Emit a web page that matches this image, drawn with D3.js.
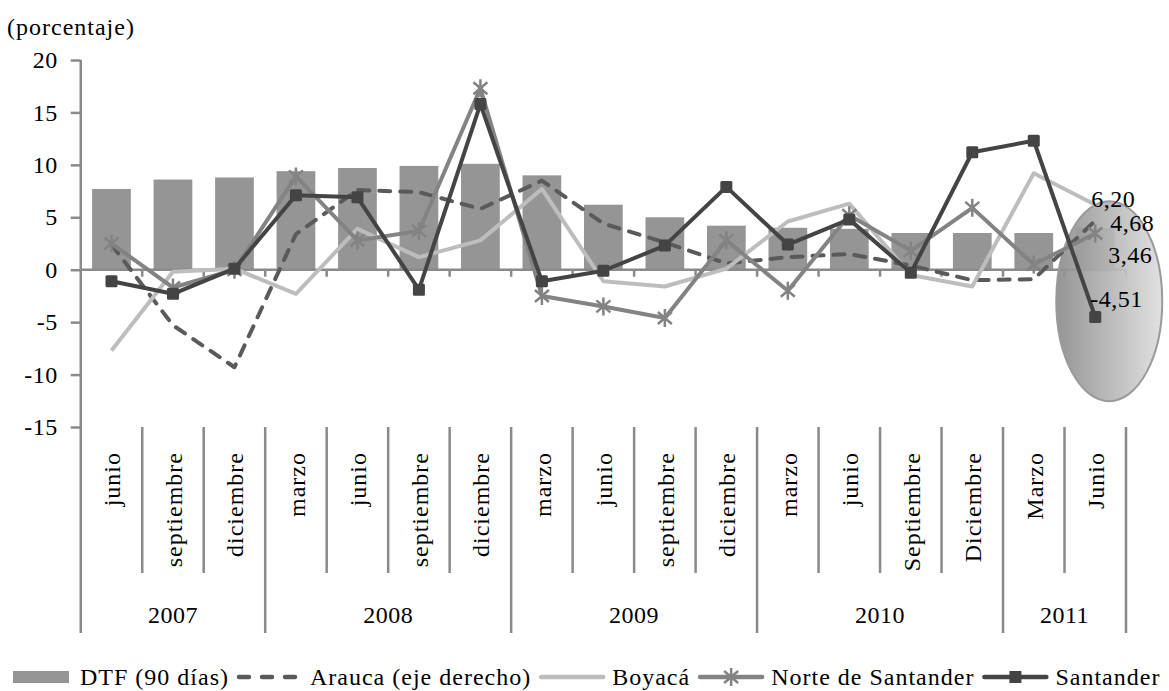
<!DOCTYPE html>
<html>
<head>
<meta charset="utf-8">
<script src="https://cdn.jsdelivr.net/npm/d3@7/dist/d3.min.js"></script>
<style>
  body { margin: 0; background: #fff; }
  svg text { font-family: "Liberation Serif", "Times New Roman", serif; fill: #000; }
</style>
</head>
<body>
<script>
// categories (quarters) and their years
var months = ["junio", "septiembre", "diciembre",
              "marzo", "junio", "septiembre", "diciembre",
              "marzo", "junio", "septiembre", "diciembre",
              "marzo", "junio", "Septiembre", "Diciembre",
              "Marzo", "Junio"];
var years = ["2007", "2008", "2009", "2010", "2011"];
var yearCounts = [3, 4, 4, 4, 2];

// series values (percent)
var dtf       = [7.7, 8.6, 8.8, 9.4, 9.7, 9.9, 10.1, 9.0, 6.2, 5.0, 4.2, 4.0, 3.9, 3.5, 3.5, 3.5, 4.0];
var arauca    = [2.4, -5.3, -9.3, 3.4, 7.6, 7.4, 5.8, 8.5, 4.4, 2.6, 0.6, 1.2, 1.5, 0.4, -1.0, -0.9, 4.68];
var boyaca    = [-7.7, -0.2, 0.1, -2.3, 3.9, 1.2, 2.8, 7.7, -1.1, -1.6, 0.1, 4.6, 6.3, -0.5, -1.6, 9.2, 6.20];
var norte     = [2.5, -1.7, 0.0, 8.9, 2.8, 3.7, 17.3, -2.5, -3.5, -4.6, 2.8, -2.0, 5.2, 1.8, 5.9, 0.5, 3.46];
var santander = [-1.1, -2.3, 0.1, 7.1, 6.9, -1.9, 15.8, -1.1, -0.1, 2.3, 7.9, 2.4, 4.8, -0.3, 11.2, 12.3, -4.51];

var yTicks = [-15, -10, -5, 0, 5, 10, 15, 20];
var lastLabels = ["4,68", "6,20", "3,46", "-4,51"];

var width = 1169, height = 691;
var axisColor = "#8a8a8a";
var fontSize = "24px";

var svg = d3.select("body").append("svg")
    .attr("width", width)
    .attr("height", height);

// scales
var x = d3.scaleBand()
    .domain(d3.range(months.length))
    .range([80.75, 1126])
    .paddingInner(0.37)
    .paddingOuter(0.185);
var step = x.step();
function cx(i) { return x(i) + x.bandwidth() / 2; }
function edge(i) { return x.range()[0] + step * i; }

var y = d3.scaleLinear().domain([-15, 20]).range([427, 60]);

// gradient for the highlight ellipse
var defs = svg.append("defs");
var grad = defs.append("linearGradient").attr("id", "ellGrad")
    .attr("x1", "0%").attr("x2", "100%").attr("y1", "0%").attr("y2", "0%");
grad.append("stop").attr("offset", "0%").attr("stop-color", "#8c8c8c");
grad.append("stop").attr("offset", "100%").attr("stop-color", "#dedede");

// title of y axis
svg.append("text")
   .attr("x", 7)
   .attr("y", 35)
   .style("font-size", fontSize)
   .style("letter-spacing", "1px")
   .text("(porcentaje)");

// DTF bars
svg.selectAll("rect.bar")
   .data(dtf)
   .enter()
   .append("rect")
   .attr("class", "bar")
   .attr("x", function(d, i) { return x(i); })
   .attr("width", x.bandwidth())
   .attr("y", function(d) { return y(Math.max(d, 0)); })
   .attr("height", function(d) { return Math.abs(y(d) - y(0)); })
   .attr("fill", "#959595");

// y axis
var yAxis = d3.axisLeft(y)
    .tickValues(yTicks)
    .tickSize(10)
    .tickPadding(13)
    .tickFormat(function(d) { return String(d); });
var gy = svg.append("g")
   .attr("transform", "translate(" + x.range()[0] + ",0)")
   .call(yAxis);
gy.select(".domain").remove();
gy.selectAll("line").attr("stroke", axisColor).attr("stroke-width", 2.5);
gy.selectAll("text")
  .style("font-size", fontSize)
  .style("font-family", "Liberation Serif")
  .style("letter-spacing", "0.5px");

// left axis line, down to the bottom of the year rows
svg.append("line")
   .attr("x1", x.range()[0]).attr("x2", x.range()[0])
   .attr("y1", y(20)).attr("y2", 633)
   .attr("stroke", axisColor).attr("stroke-width", 2.5);

// zero line with small ticks
svg.append("line")
   .attr("x1", x.range()[0]).attr("x2", x.range()[1])
   .attr("y1", y(0)).attr("y2", y(0))
   .attr("stroke", axisColor).attr("stroke-width", 2.5);
svg.selectAll("line.zt")
   .data(d3.range(1, months.length + 1))
   .enter()
   .append("line")
   .attr("class", "zt")
   .attr("x1", function(d) { return edge(d); })
   .attr("x2", function(d) { return edge(d); })
   .attr("y1", y(0)).attr("y2", y(0) + 7)
   .attr("stroke", axisColor).attr("stroke-width", 2.5);

// category separators in the label area
var yearStarts = [0];
yearCounts.forEach(function(c, k) { yearStarts.push(yearStarts[k] + c); });
svg.selectAll("line.sep")
   .data(d3.range(1, months.length + 1))
   .enter()
   .append("line")
   .attr("class", "sep")
   .attr("x1", function(d) { return edge(d); })
   .attr("x2", function(d) { return edge(d); })
   .attr("y1", y(-15))
   .attr("y2", function(d) { return yearStarts.indexOf(d) >= 0 ? 633 : 573; })
   .attr("stroke", axisColor).attr("stroke-width", 2.5);

// month labels, rotated
svg.selectAll("text.month")
   .data(months)
   .enter()
   .append("text")
   .attr("class", "month")
   .attr("transform", function(d, i) {
     return "translate(" + (cx(i) + 1) + ",452)rotate(-90)";
   })
   .attr("dy", "0.33em")
   .attr("text-anchor", "end")
   .style("font-size", fontSize)
   .style("letter-spacing", "1px")
   .text(function(d) { return d; });

// year labels
svg.selectAll("text.year")
   .data(years)
   .enter()
   .append("text")
   .attr("class", "year")
   .attr("x", function(d, k) { return (edge(yearStarts[k]) + edge(yearStarts[k + 1])) / 2; })
   .attr("y", 623)
   .attr("text-anchor", "middle")
   .style("font-size", fontSize)
   .style("letter-spacing", "0.5px")
   .text(function(d) { return d; });

// highlight ellipse around the last quarter
var last = months.length - 1;
svg.append("ellipse")
   .attr("cx", cx(last) + 14)
   .attr("cy", y(-3))
   .attr("rx", 53)
   .attr("ry", 100)
   .attr("fill", "url(#ellGrad)")
   .attr("fill-opacity", 0.92)
   .attr("stroke", "#9a9a9a")
   .attr("stroke-width", 2);

// line series
var line = d3.line()
    .x(function(d, i) { return cx(i); })
    .y(function(d) { return y(d); });

var series = [
  { name: "Arauca (eje derecho)", values: arauca, color: "#5a5a5a", dash: "11,10", marker: null },
  { name: "Boyacá", values: boyaca, color: "#bdbdbd", dash: null, marker: null },
  { name: "Norte de Santander", values: norte, color: "#838383", dash: null, marker: "star" },
  { name: "Santander", values: santander, color: "#444444", dash: null, marker: "square" }
];

var starPath = "M-7,-6L7,6M-7,6L7,-6M0,-9L0,9";

series.forEach(function(s) {
  svg.append("path")
     .datum(s.values)
     .attr("d", line)
     .attr("fill", "none")
     .attr("stroke", s.color)
     .attr("stroke-width", 4)
     .attr("stroke-linejoin", "round")
     .attr("stroke-linecap", s.dash ? "round" : "butt")
     .attr("stroke-dasharray", s.dash);

  if (s.marker === "square") {
    svg.selectAll(null)
       .data(s.values)
       .enter()
       .append("rect")
       .attr("x", function(d, i) { return cx(i) - 6; })
       .attr("y", function(d) { return y(d) - 6; })
       .attr("width", 12).attr("height", 12)
       .attr("rx", 1.5)
       .attr("fill", s.color);
  }
  if (s.marker === "star") {
    svg.selectAll(null)
       .data(s.values)
       .enter()
       .append("path")
       .attr("transform", function(d, i) { return "translate(" + cx(i) + "," + y(d) + ")"; })
       .attr("d", starPath)
       .attr("stroke", s.color)
       .attr("stroke-width", 2.5)
       .attr("fill", "none");
  }
});

// labels of the last values
var labelOffsets = [[15, 2], [-4, -6], [13, 21], [-5, -18]];
series.forEach(function(s, k) {
  svg.append("text")
     .attr("x", cx(last) + labelOffsets[k][0])
     .attr("y", y(s.values[last]) + labelOffsets[k][1])
     .attr("dy", "0.35em")
     .style("font-size", fontSize)
     .style("letter-spacing", "0.5px")
     .text(lastLabels[k]);
});

// legend
var legend = svg.append("g").attr("transform", "translate(0,677)");
var lx = 13;

legend.append("rect")
      .attr("x", lx).attr("y", -6).attr("width", 56).attr("height", 12)
      .attr("fill", "#959595");
lx += 67;

function legendText(label) {
  var t = legend.append("text")
      .attr("x", lx).attr("y", 0).attr("dy", "0.33em")
      .style("font-size", fontSize)
      .style("letter-spacing", "1px")
      .text(label);
  lx += t.node().getComputedTextLength() + 7;
}

legendText("DTF (90 días)");

series.forEach(function(s) {
  legend.append("line")
        .attr("x1", lx + 3).attr("x2", lx + 65)
        .attr("y1", 0).attr("y2", 0)
        .attr("stroke", s.color)
        .attr("stroke-width", 4.5)
        .attr("stroke-linecap", "round")
        .attr("stroke-dasharray", s.dash ? "10,13" : null);
  if (s.marker === "square") {
    legend.append("rect")
          .attr("x", lx + 28).attr("y", -6).attr("width", 12).attr("height", 12)
          .attr("fill", s.color);
  }
  if (s.marker === "star") {
    legend.append("path")
          .attr("transform", "translate(" + (lx + 34) + ",0)")
          .attr("d", starPath)
          .attr("stroke", s.color).attr("stroke-width", 2.5);
  }
  lx += 74;
  legendText(s.name);
});
</script>
</body>
</html>
